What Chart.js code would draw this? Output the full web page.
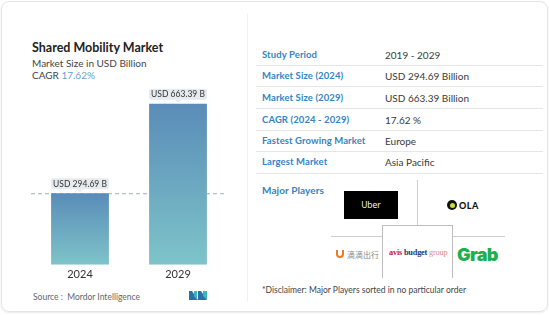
<!DOCTYPE html>
<html>
<head>
<meta charset="utf-8">
<script src="https://cdn.jsdelivr.net/npm/chart.js@4.4.1/dist/chart.umd.min.js"></script>
<style>
  html,body{margin:0;padding:0;background:#fff;}
  body{width:550px;height:315px;position:relative;overflow:hidden;font-family:Lato,"Open Sans",sans-serif;color:#333;}
  .card{position:absolute;left:1px;top:1px;width:545px;height:309px;border:1px solid #e4e4e4;border-radius:8px;box-shadow:0 1px 2px rgba(0,0,0,0.08);}
  .vdiv{position:absolute;left:247px;top:14px;width:1px;height:288px;background:#f1f1f1;}
  .t{position:absolute;white-space:nowrap;line-height:14px;}
  .lbl{position:absolute;left:262px;font-size:9.5px;font-weight:700;color:#3584c2;line-height:14px;white-space:nowrap;letter-spacing:0.1px;}
  .val{position:absolute;left:385px;font-size:10px;color:#3a3a3a;line-height:14px;white-space:nowrap;}
  .sep{position:absolute;left:256px;width:287px;height:1px;background:#e6e6e6;}
  #wrap{position:absolute;left:31px;top:81px;width:196px;height:203px;}
</style>
</head>
<body>
<div class="card"></div>
<div class="vdiv"></div>

<div class="t" style="left:32px;top:41px;font-size:12.5px;font-weight:700;color:#222;">Shared Mobility Market</div>
<div class="t" style="left:32px;top:56px;font-size:10px;color:#444;">Market Size in USD Billion</div>
<div class="t" style="left:32px;top:68px;font-size:10px;color:#444;">CAGR <span style="color:#6a9fcf;">17.62%</span></div>

<div id="wrap"><canvas id="c"></canvas></div>

<div class="t" style="left:33px;top:290px;font-size:8.5px;color:#666;">Source :&nbsp; Mordor Intelligence</div>
<svg style="position:absolute;left:189px;top:291px" width="19" height="9" viewBox="0 0 19 9">
  <polygon points="0,9 0,0 3,0 9,9" fill="#2a6fa8"/>
  <polygon points="5,0 8,0 8,9 5,5" fill="#3bb3c9"/>
  <polygon points="9,9 9,0 12,0 18,9" fill="#2a6fa8"/>
  <polygon points="14,0 18,0 18,9 14,5" fill="#3bb3c9"/>
</svg>

<!-- table -->
<div class="lbl" style="top:48px;">Study Period</div><div class="val" style="top:48px;">2019 - 2029</div>
<div class="sep" style="top:65px;"></div>
<div class="lbl" style="top:69px;">Market Size (2024)</div><div class="val" style="top:69px;">USD 294.69 Billion</div>
<div class="sep" style="top:86px;"></div>
<div class="lbl" style="top:91px;">Market Size (2029)</div><div class="val" style="top:91px;">USD 663.39 Billion</div>
<div class="sep" style="top:108px;"></div>
<div class="lbl" style="top:113px;">CAGR (2024 - 2029)</div><div class="val" style="top:113px;">17.62 %</div>
<div class="sep" style="top:130px;"></div>
<div class="lbl" style="top:134px;">Fastest Growing Market</div><div class="val" style="top:134px;">Europe</div>
<div class="sep" style="top:151px;"></div>
<div class="lbl" style="top:155px;">Largest Market</div><div class="val" style="top:155px;">Asia Pacific</div>
<div class="sep" style="top:173px;"></div>

<div class="lbl" style="top:183px;font-size:10px;">Major Players</div>

<!-- logo grid -->
<div style="position:absolute;left:417px;top:180px;width:1px;height:45px;background:#cfcfcf;"></div>
<div style="position:absolute;left:331px;top:236px;width:174px;height:1px;background:#cfcfcf;"></div>
<div style="position:absolute;left:382px;top:225px;width:69px;height:52px;border:1px solid #bdbdbd;border-bottom:none;background:#fff;"></div>

<div style="position:absolute;left:344px;top:191px;width:54px;height:28px;background:#000;color:#fff;font-size:8.5px;line-height:28px;text-align:center;font-family:'Open Sans',sans-serif;">Uber</div>

<div style="position:absolute;left:447px;top:200px;width:10px;height:10px;border-radius:50%;background:#111;"></div>
<div style="position:absolute;left:449.5px;top:202.5px;width:5px;height:5px;border-radius:50%;background:#cddc39;"></div>
<div class="t" style="left:459px;top:199px;font-size:9px;font-weight:900;color:#111;letter-spacing:0.5px;">OLA</div>

<div style="position:absolute;left:336px;top:250px;width:8px;height:8px;border:2px solid #f27a21;border-top:none;border-radius:0 0 6px 6px;box-sizing:border-box;"></div>
<div class="t" style="left:347px;top:248px;font-size:8px;color:#888;font-family:'Noto Sans CJK SC',sans-serif;">滴滴出行</div>

<div class="t" style="left:389px;top:246px;font-size:8.3px;font-family:'Liberation Serif',serif;font-weight:700;letter-spacing:-0.2px;"><span style="color:#d2232a;">avis</span> <span style="color:#1e3a6e;">budget</span> <span style="color:#e08a8a;font-weight:400;">group</span></div>

<div class="t" style="left:457px;top:245px;font-size:18px;line-height:20px;font-weight:900;color:#19b14f;font-family:'Inter',sans-serif;letter-spacing:-0.6px;">Grab</div>

<div class="t" style="left:262px;top:283px;font-size:8.5px;color:#444;">*Disclaimer: Major Players sorted in no particular order</div>

<script>
const categories = ["2024", "2029"];
const marketSize = [294.69, 663.39];
const valueLabels = ["USD 294.69 B", "USD 663.39 B"];

const labelPlugin = {
  id: 'valueBoxes',
  beforeDatasetsDraw(chart) {
    const ctx = chart.ctx, area = chart.chartArea;
    const y = chart.scales.y.getPixelForValue(marketSize[0]);
    ctx.save();
    ctx.strokeStyle = '#9fb0c2';
    ctx.lineWidth = 1;
    ctx.setLineDash([4, 3]);
    ctx.beginPath();
    ctx.moveTo(area.left, y + 0.5);
    ctx.lineTo(area.right, y + 0.5);
    ctx.stroke();
    ctx.restore();
  },
  afterDatasetsDraw(chart) {
    const ctx = chart.ctx;
    const meta = chart.getDatasetMeta(0);
    ctx.save();
    meta.data.forEach((bar, i) => {
      const w = bar.width, h = 11;
      const x0 = bar.x - w / 2;
      const yb = bar.y - 4;
      ctx.fillStyle = '#e6ebef';
      ctx.beginPath();
      if (ctx.roundRect) ctx.roundRect(x0, yb - h, w, h, 2); else ctx.rect(x0, yb - h, w, h);
      ctx.fill();
      ctx.beginPath();
      ctx.moveTo(bar.x - 3, yb);
      ctx.lineTo(bar.x, yb + 3);
      ctx.lineTo(bar.x + 3, yb);
      ctx.fill();
      ctx.fillStyle = '#333';
      ctx.font = '8.5px Lato, sans-serif';
      ctx.textAlign = 'center';
      ctx.textBaseline = 'middle';
      ctx.fillText(valueLabels[i], bar.x, yb - h / 2 + 0.5);
    });
    ctx.restore();
  }
};

new Chart(document.getElementById('c'), {
  type: 'bar',
  data: {
    labels: categories,
    datasets: [{
      data: marketSize,
      barPercentage: 0.59,
      categoryPercentage: 1.0,
      backgroundColor(context) {
        const chart = context.chart;
        if (!chart.chartArea || !chart.scales.y) return '#6aa3c0';
        const v = context.raw;
        const top = chart.scales.y.getPixelForValue(v);
        const bottom = chart.scales.y.getPixelForValue(0);
        const g = chart.ctx.createLinearGradient(0, top, 0, bottom);
        g.addColorStop(0, '#5a8cb8');
        g.addColorStop(1, '#7ec4c9');
        return g;
      }
    }]
  },
  options: {
    responsive: true,
    maintainAspectRatio: false,
    animation: false,
    layout: { padding: 0 },
    plugins: { legend: { display: false }, tooltip: { enabled: false } },
    scales: {
      x: {
        grid: { display: false, drawTicks: false },
        border: { display: false },
        ticks: { color: '#333', font: { size: 11, family: 'Lato' }, padding: 3 }
      },
      y: { display: false, min: 0, max: 757 }
    }
  },
  plugins: [labelPlugin]
});
</script>
</body>
</html>
